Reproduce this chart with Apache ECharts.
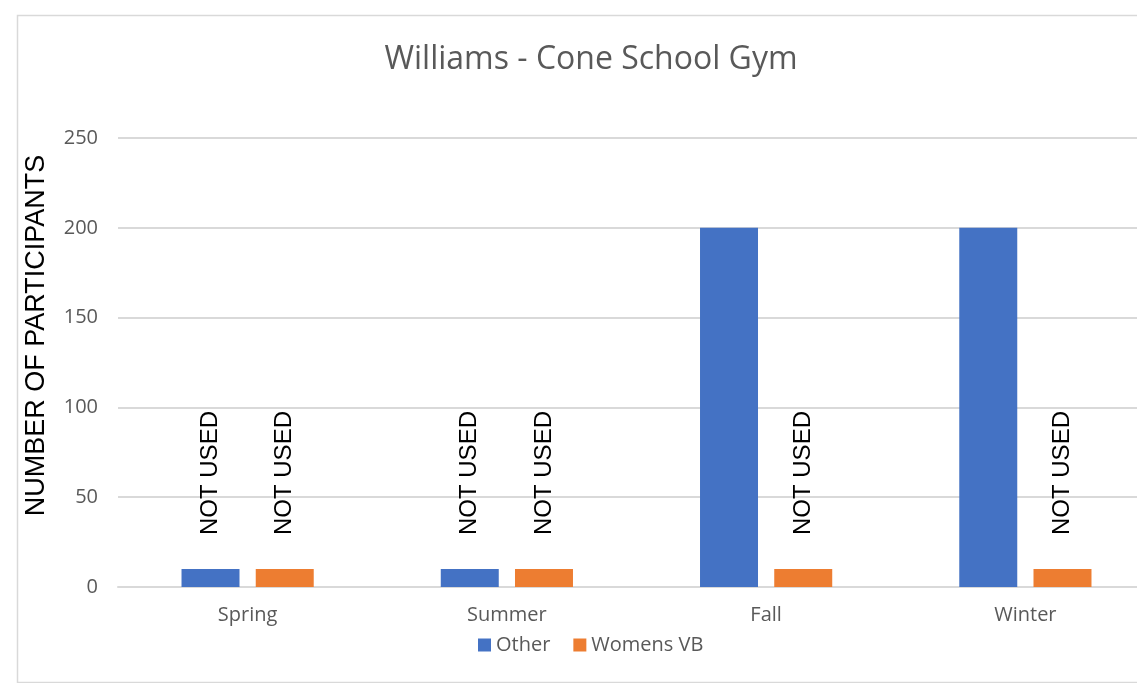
<!DOCTYPE html>
<html>
<head>
<meta charset="utf-8">
<script src="https://cdn.jsdelivr.net/npm/echarts@6/dist/echarts.min.js"></script>
<style>
  html, body { margin: 0; padding: 0; background: #fff; }
  #chart { width: 1137px; height: 683px; }
</style>
</head>
<body>
<div id="chart"></div>
<script>
const seasons = ['Spring', 'Summer', 'Fall', 'Winter'];
const otherValues = [10, 10, 200, 200];
const womensValues = [10, 10, 10, 10];
const otherLabels = ['NOT USED', 'NOT USED', '', ''];
const womensLabels = ['NOT USED', 'NOT USED', 'NOT USED', 'NOT USED'];
const yTicks = { min: 0, max: 250, interval: 50 };

const chart = echarts.init(document.getElementById('chart'));

const labelStyle = (labels) => ({
  show: true,
  position: 'top',
  rotate: 90,
  align: 'left',
  verticalAlign: 'middle',
  distance: 34,
  color: '#000',
  fontSize: 24,
  fontFamily: 'Liberation Sans',
  formatter: (p) => labels[p.dataIndex]
});

chart.setOption({
  animation: false,
  title: {
    text: 'Williams - Cone School Gym',
    left: 586,
    top: 39,
    textAlign: 'center',
    textStyle: {
      color: '#595959',
      fontSize: 32,
      fontWeight: 'normal',
      fontFamily: 'Open Sans, sans-serif'
    }
  },
  graphic: [{
    type: 'rect',
    left: 15,
    top: 13,
    shape: { width: 1140, height: 667 },
    style: { fill: 'none', stroke: '#d9d9d9', lineWidth: 1.5 },
    silent: true,
    z: -1
  }],
  legend: {
    data: ['Other', 'Womens VB'],
    left: 473,
    top: 630,
    itemWidth: 13,
    itemHeight: 13,
    itemGap: 23,
    icon: 'rect',
    textStyle: { color: '#595959', fontSize: 20, fontFamily: 'Open Sans, sans-serif' }
  },
  grid: { left: 118, width: 1037, top: 138, bottom: 96, outerBoundsMode: 'none' },
  xAxis: {
    type: 'category',
    data: seasons,
    axisTick: { show: false },
    axisLine: { lineStyle: { color: '#d9d9d9', width: 2 } },
    axisLabel: { color: '#595959', fontSize: 20, margin: 18, fontFamily: 'Open Sans, sans-serif' }
  },
  yAxis: {
    type: 'value',
    min: yTicks.min,
    max: yTicks.max,
    interval: yTicks.interval,
    name: 'NUMBER OF PARTICIPANTS',
    nameLocation: 'middle',
    nameGap: 68,
    nameTextStyle: {
      color: '#000',
      fontSize: 27,
      fontFamily: 'Liberation Sans',
      padding: [0, 0, 0, 54]
    },
    axisLine: { show: false },
    axisTick: { show: false },
    axisLabel: { color: '#595959', fontSize: 20, margin: 20, fontFamily: 'Open Sans, sans-serif' },
    splitLine: { lineStyle: { color: '#d9d9d9', width: 2 } }
  },
  series: [
    {
      name: 'Other',
      type: 'bar',
      data: otherValues,
      barGap: '28%',
      barCategoryGap: '49%',
      itemStyle: { color: '#4472C4' },
      label: labelStyle(otherLabels)
    },
    {
      name: 'Womens VB',
      type: 'bar',
      data: womensValues,
      itemStyle: { color: '#ED7D31' },
      label: labelStyle(womensLabels)
    }
  ]
});

window.addEventListener('resize', () => chart.resize());
</script>
</body>
</html>
